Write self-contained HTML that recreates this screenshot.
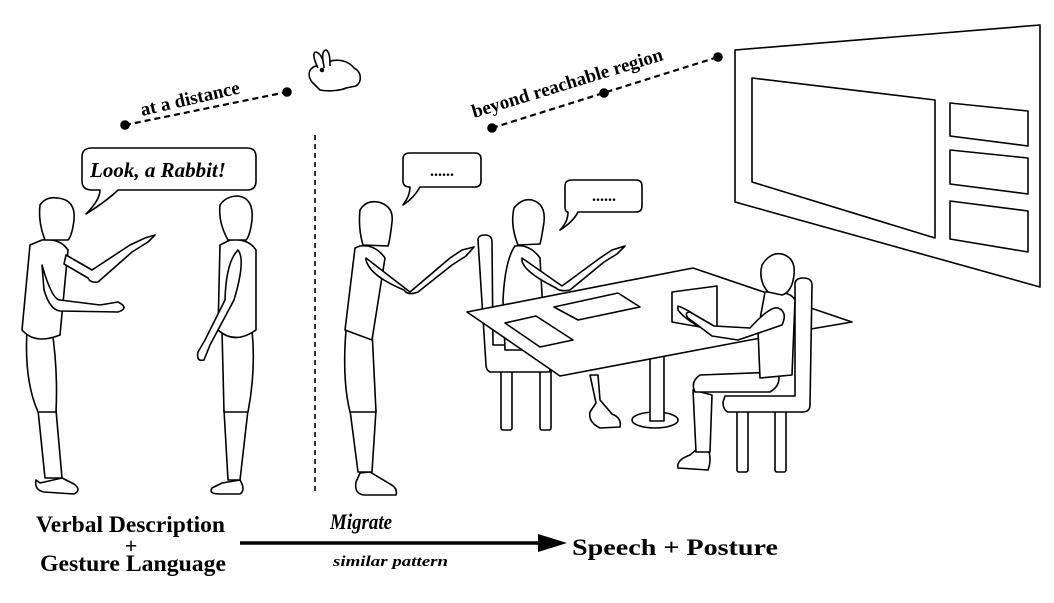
<!DOCTYPE html>
<html><head><meta charset="utf-8"><style>
html,body{margin:0;padding:0;background:#fff;}
svg{display:block;}
text{font-family:"Liberation Serif",serif;font-weight:bold;fill:#000;}
</style></head><body>
<svg width="1054" height="603" viewBox="0 0 1054 603" xmlns="http://www.w3.org/2000/svg">
<g fill="#fff" stroke="#000" stroke-width="1.6" stroke-linejoin="round">

<!-- screen -->
<polygon points="735,50 1040,25 1040,287 735,202"/>
<polygon points="752,78 935,100 935,238 752,182"/>
<polygon points="950,103 1028,111 1028,146 950,136"/>
<polygon points="950,150 1028,158 1028,194 950,184"/>
<polygon points="950,201 1028,211 1028,252 950,239"/>

<!-- dashed lines -->
<line x1="125" y1="125" x2="287" y2="92" stroke-dasharray="6,4" stroke-width="2.2"/>
<line x1="492" y1="128" x2="718" y2="57" stroke-dasharray="6,4" stroke-width="2.2"/>
<line x1="315" y1="135" x2="315" y2="492" stroke-dasharray="5,4" stroke-width="1.6"/>
<g fill="#000"><circle cx="125" cy="125" r="4"/><circle cx="287" cy="92" r="4"/><circle cx="492" cy="128" r="4"/><circle cx="604" cy="93" r="4"/><circle cx="718" cy="57" r="4"/></g>

<!-- rabbit -->
<path d="M312,82 C305,72 312,64 322,66 C330,58 346,58 354,68 C362,72 362,82 356,86 L346,88 C342,90 330,92 320,90 Z"/>
<path d="M318,68 C314,60 312,52 316,52 C322,54 324,62 324,68"/>
<path d="M324,66 C322,58 322,50 326,50 C330,52 330,60 330,66"/>
<circle cx="322" cy="70" r="1.5" fill="#000"/>

<!-- speech bubbles -->
<path d="M92,148 H247 Q256,148 256,157 V181 Q256,190 247,190 H118 Q108,200 86,214 Q100,200 100,190 H92 Q82,190 82,181 V157 Q82,148 92,148 Z"/>
<path d="M410,153 H475 Q481,153 481,159 V181 Q481,187 475,187 H420 Q414,198 403,205 Q410,196 410,187 Q403,187 403,181 V159 Q403,153 410,153 Z"/>
<path d="M572,180 H636 Q642,180 642,186 V206 Q642,212 636,212 H578 Q573,222 560,230 Q568,222 568,212 Q565,212 565,206 V186 Q565,180 572,180 Z"/>

<!-- figure 1 -->
<path d="M40,483 L36,480 Q34,490 44,492 L74,494 Q82,490 74,484 L62,478 Z"/>
<path d="M38,410 L45,478 L62,478 L56,410 Z"/>
<path d="M27,330 Q24,380 38,412 L56,412 Q58,370 52,330 Z"/>
<path d="M30,245 L22,330 Q35,345 60,335 L68,250 Q60,238 42,240 Z"/>
<path d="M45,240 Q38,222 40,205 Q46,196 58,198 Q76,200 74,220 Q72,236 68,240 Z"/>
<path d="M66,255 L92,270 L130,245 L145,238 L155,235 L148,242 L132,252 L98,282 Q90,283 88,278 L64,264 Z"/>
<path d="M42,265 Q52,300 60,300 L100,305 L118,302 Q130,308 118,312 L60,311 Q50,310 44,290 Z"/>

<!-- figure 2 -->
<path d="M222,483 L212,488 Q208,494 220,494 L240,494 Q246,490 240,480 Z"/>
<path d="M224,410 L228,480 L240,480 L248,410 Z"/>
<path d="M222,330 L224,412 L248,412 Q256,370 252,330 Z"/>
<path d="M220,245 L218,330 Q235,345 256,330 L256,250 Q248,238 230,240 Z"/>
<path d="M228,240 Q218,222 220,205 Q226,196 238,196 Q254,198 252,220 Q250,236 246,240 Z"/>
<path d="M238,250 Q246,260 234,300 L210,345 L204,360 Q196,362 198,352 L205,340 L225,300 Q226,262 238,250 Z"/>

<!-- figure 3 -->
<path d="M360,473 L356,482 Q354,494 364,495 L396,495 Q398,488 390,484 L370,472 Z"/>
<path d="M350,410 L358,472 L372,472 L376,410 Z"/>
<path d="M346,330 Q342,380 350,412 L376,412 Q374,370 372,330 Z"/>
<path d="M355,248 L345,330 L372,340 L385,258 Q375,244 360,246 Z"/>
<path d="M363,245 Q358,228 360,210 Q366,200 378,202 Q394,206 392,222 Q390,240 388,246 Z"/>
<path d="M366,258 L410,292 L450,258 L462,250 L474,247 L466,256 L452,265 L418,292 Q408,296 404,290 Q370,276 366,260 Z"/>

<!-- left chair -->
<rect x="501" y="368" width="11" height="62" rx="2"/>
<rect x="540" y="368" width="11" height="62" rx="2"/>
<path d="M478,240 Q478,235 485,235 Q492,235 492,242 L493,345 L548,345 L550,372 L490,372 Q486,370 486,365 Z"/>

<!-- figure 4 -->
<path d="M590,375 L596,403 L590,412 Q588,422 600,428 L620,427 Q622,418 612,414 L600,400 L598,375 Z"/>
<path d="M515,246 Q505,260 503,300 L505,350 L545,350 L540,258 Q530,244 515,246 Z"/>
<path d="M518,245 Q510,225 514,208 Q522,198 532,200 Q546,204 544,222 Q542,236 540,244 Z"/>
<path d="M522,258 L562,286 L600,258 L612,250 L625,246 L617,254 L604,262 L570,290 Q560,292 556,288 Q520,270 522,258 Z"/>

<!-- table leg -->
<ellipse cx="655" cy="420" rx="23" ry="8"/>
<rect x="650" y="355" width="14" height="66"/>

<!-- table -->
<polygon points="467,312 693,268 852,322 805,330 750,340 560,376"/>
<polygon points="505,323 536,316 573,340 540,347"/>
<polygon points="554,307 618,293 640,307 578,320"/>
<polygon points="672,292 717,286 717,330 672,322"/>
<path d="M678,306 Q690,310 700,320 Q706,326 698,326 Q684,318 678,310 Z"/>

<!-- right chair -->
<rect x="737" y="408" width="11" height="64" rx="2"/>
<rect x="775" y="408" width="11" height="64" rx="2"/>
<path d="M795,283 Q796,278 803,278 Q812,278 812,285 L810,405 Q810,412 802,412 L728,412 Q723,410 723,402 L725,396 L795,396 Z"/>

<!-- figure 5 -->
<path d="M696,450 L690,455 Q676,460 678,468 L708,470 Q712,460 708,448 Z"/>
<path d="M693,390 L696,452 L710,452 L712,395 Z"/>
<path d="M700,375 Q690,382 695,392 L770,392 Q782,385 778,372 Z"/>
<path d="M765,292 Q790,290 795,300 L792,375 L760,378 L758,330 Z"/>
<path d="M768,292 Q758,280 762,265 Q770,252 782,254 Q796,258 794,275 Q792,292 782,295 Z"/>
<path d="M778,308 Q788,312 782,325 L738,340 L712,336 L688,318 Q684,312 690,312 L714,326 L750,328 Q770,306 778,308 Z"/>

</g>

<!-- labels -->
<text x="0" y="0" font-size="19" transform="translate(142,116) rotate(-13)">at a distance</text>
<text x="0" y="0" font-size="19" transform="translate(474,118) rotate(-17)">beyond reachable region</text>
<text x="90" y="177" font-size="21" font-style="italic">Look, a Rabbit!</text>
<text x="442" y="176" font-size="16" text-anchor="middle">......</text>
<text x="604" y="201" font-size="16" text-anchor="middle">......</text>

<text x="36" y="532" font-size="23" textLength="189" lengthAdjust="spacingAndGlyphs">Verbal Description</text>
<text x="131" y="553" font-size="22" text-anchor="middle">+</text>
<text x="40" y="571" font-size="23" textLength="186" lengthAdjust="spacingAndGlyphs">Gesture Language</text>
<text x="330" y="529" font-size="22" font-style="italic" textLength="62" lengthAdjust="spacingAndGlyphs">Migrate</text>
<text x="333" y="566" font-size="15" font-style="italic" textLength="115" lengthAdjust="spacingAndGlyphs">similar pattern</text>
<text x="572" y="555" font-size="23" textLength="206" lengthAdjust="spacingAndGlyphs">Speech + Posture</text>
<line x1="240" y1="543" x2="545" y2="543" stroke="#000" stroke-width="3.5"/>
<polygon points="538,534 567,543 538,552" fill="#000"/>
</svg>
</body></html>
